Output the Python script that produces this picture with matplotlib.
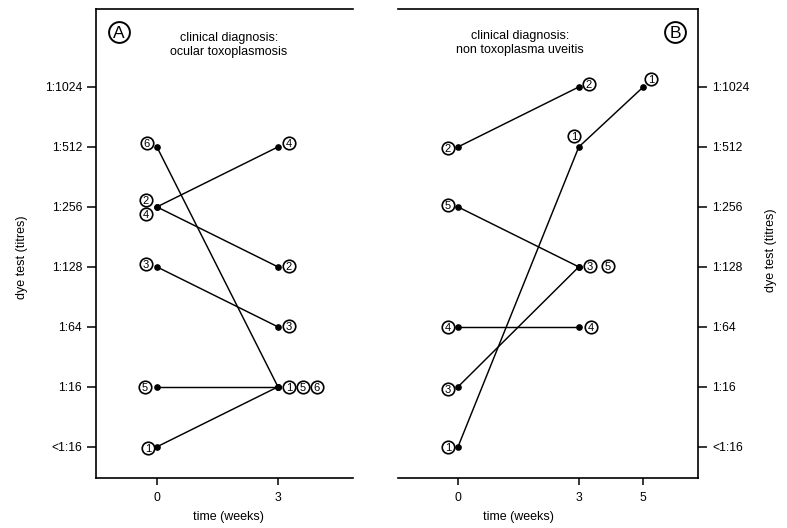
import numpy as np
import matplotlib
matplotlib.use("Agg")
import matplotlib.pyplot as plt
import matplotlib.transforms as mtransforms

plt.rcParams['font.family'] = ['Liberation Sans', 'DejaVu Sans']

# ---- data ----
levels = ['<1:16', '1:16', '1:64', '1:128', '1:256', '1:512', '1:1024']

a_ids = [1, 2, 3, 4, 5, 6]
a_week0 = ['<1:16', '1:256', '1:128', '1:256', '1:16', '1:512']
a_week3 = ['1:16', '1:128', '1:64', '1:512', '1:16', '1:16']

b_ids = [1, 2, 3, 4, 5]
b_week0 = ['<1:16', '1:512', '1:16', '1:64', '1:256']
b_week3 = ['1:512', '1:1024', '1:128', '1:64', '1:128']
b_week5 = ['1:1024', None, None, None, None]

weeks_a = [0, 3]
weeks_b = [0, 3, 5]

title_a = "clinical diagnosis:\nocular toxoplasmosis"
title_b = "clinical diagnosis:\nnon toxoplasma uveitis"

def lv(s):
    return levels.index(s)

# ---- figure ----
fig = plt.figure(figsize=(7.87, 5.28), dpi=100)
W, H = 787, 528
def axrect(x0, x1, y0, y1):
    return [x0 / W, 1 - y1 / H, (x1 - x0) / W, (y1 - y0) / H]

axA = fig.add_axes(axrect(96, 353, 9, 478))
axB = fig.add_axes(axrect(398, 698, 9, 478))

def fwd(x):
    x = np.asarray(x, dtype=float)
    return np.where(x <= 3, x, 3 + (x - 3) * 0.8)

def inv(y):
    y = np.asarray(y, dtype=float)
    return np.where(y <= 3, y, 3 + (y - 3) / 0.8)

LW = 1.05
for ax in (axA, axB):
    ax.set_xscale('function', functions=(fwd, inv))
    ax.set_ylim(-0.52, 7.3)
    ax.set_yticks(range(len(levels)))
    ax.set_yticklabels(levels)
    for sp in ax.spines.values():
        sp.set_linewidth(1.2)
    ax.tick_params(axis='both', direction='out', width=1.1, labelsize=8.7, colors='black')
    ax.tick_params(axis='x', length=5, pad=5)
    ax.tick_params(axis='y', length=6.5, pad=3.5)

axA.set_xlim(-1.51, float(inv(4.86)))
axB.set_xlim(-1.49, float(inv(5.96)))
axA.set_xticks(weeks_a)
axA.set_xticklabels([str(w) for w in weeks_a])
axB.set_xticks(weeks_b)
axB.set_xticklabels([str(w) for w in weeks_b])

axA.spines['right'].set_visible(False)
axB.spines['left'].set_visible(False)
axB.yaxis.tick_right()
axB.tick_params(axis='y', left=False, right=True)

def circled(ax, base, x, y, txt, dx, dy, fs, ms, mew):
    tr = mtransforms.offset_copy(base, fig=fig, x=dx, y=dy, units='dots')
    ax.plot([x], [y], marker='o', ms=ms, mfc='white', mec='black', mew=mew,
            transform=tr, zorder=5, clip_on=False)
    cap = 0.72 * fs * 100 / 72.0
    tr2 = mtransforms.offset_copy(base, fig=fig, x=dx, y=dy - cap / 2, units='dots')
    ax.text(x, y, txt, transform=tr2, ha='center', va='baseline', fontsize=fs, zorder=6)

def circ(ax, x, y, txt, dx, dy):
    circled(ax, ax.transData, x, y, txt, dx, dy, fs=8, ms=9.0, mew=1.2)

def line(ax, xs, ys):
    ax.plot(xs, ys, color='black', lw=LW, marker='o', ms=3.8, zorder=3)

# panel A
for i, pid in enumerate(a_ids):
    line(axA, weeks_a, [lv(a_week0[i]), lv(a_week3[i])])

# labels panel A (offsets in pixels)
circ(axA, 0, lv('1:512'), '6', -10, 4)
circ(axA, 0, lv('1:256'), '2', -11, 7)
circ(axA, 0, lv('1:256'), '4', -11, -7)
circ(axA, 0, lv('1:128'), '3', -11, 3)
circ(axA, 0, lv('1:16'), '5', -12, 0)
circ(axA, 0, lv('<1:16'), '1', -9, -1)
circ(axA, 3, lv('1:512'), '4', 11, 4)
circ(axA, 3, lv('1:128'), '2', 11, 1)
circ(axA, 3, lv('1:64'), '3', 11, 1)
circ(axA, 3, lv('1:16'), '1', 11, 0)
circ(axA, 3, lv('1:16'), '5', 25, 0)
circ(axA, 3, lv('1:16'), '6', 39, 0)

# panel B
for i, pid in enumerate(b_ids):
    xs = [weeks_b[0], weeks_b[1]]
    ys = [lv(b_week0[i]), lv(b_week3[i])]
    if b_week5[i] is not None:
        xs.append(weeks_b[2])
        ys.append(lv(b_week5[i]))
    line(axB, xs, ys)

circ(axB, 0, lv('1:512'), '2', -10, -1)
circ(axB, 0, lv('1:256'), '5', -10, 2)
circ(axB, 0, lv('1:64'), '4', -10, 0)
circ(axB, 0, lv('1:16'), '3', -10, -2)
circ(axB, 0, lv('<1:16'), '1', -10, 0)
circ(axB, 3, lv('1:1024'), '2', 10, 3)
circ(axB, 3, lv('1:512'), '1', -5, 11)
circ(axB, 5, lv('1:1024'), '1', 8, 8)
circ(axB, 3, lv('1:128'), '3', 11, 1)
circ(axB, 3, lv('1:128'), '5', 29, 1)
circ(axB, 3, lv('1:64'), '4', 12, 0)

# panel letters
circled(axA, axA.transAxes, 0.0895, 0.951, 'A', 0, 0, fs=12.5, ms=15, mew=1.4)
circled(axB, axB.transAxes, 0.923, 0.951, 'B', 0, 0, fs=12.5, ms=15, mew=1.4)

# diagnosis texts
axA.text(0.5175, 0.924, title_a, transform=axA.transAxes, ha='center', va='center',
         fontsize=9, linespacing=1.2)
axB.text(0.407, 0.928, title_b, transform=axB.transAxes, ha='center', va='center',
         fontsize=9, linespacing=1.2)

# axis labels
fig.text(228 / W, 1 - 517 / H, 'time (weeks)', ha='center', va='center', fontsize=9)
fig.text(518 / W, 1 - 517 / H, 'time (weeks)', ha='center', va='center', fontsize=9)
fig.text(22 / W, 1 - 257 / H, 'dye test (titres)', ha='center', va='center', fontsize=9, rotation=90)
fig.text(771 / W, 1 - 250 / H, 'dye test (titres)', ha='center', va='center', fontsize=9, rotation=90)

fig.savefig('out.png', dpi=100)
